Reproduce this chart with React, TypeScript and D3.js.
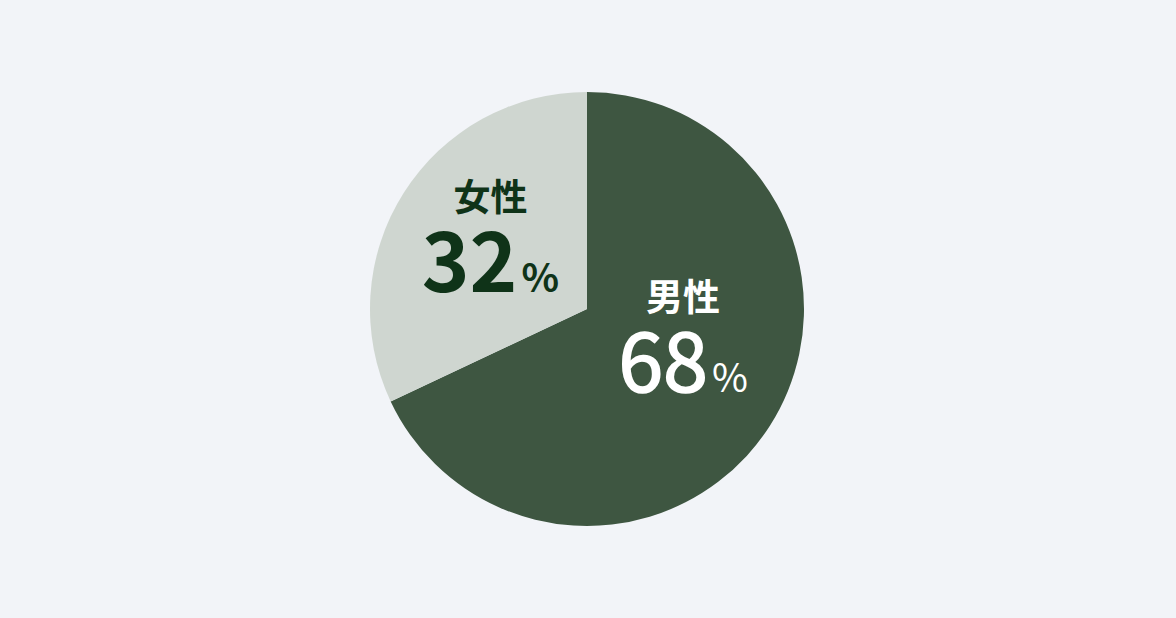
import * as d3 from "d3";

const WIDTH = 1176;
const HEIGHT = 618;

// Slices, in drawing order (clockwise from 12 o'clock)
const labels = ["男性", "女性"];
const values = [68, 32];
const fills = ["#3e5641", "#cfd6d0"];
const textColors = ["#ffffff", "#0f3318"];
const numberWeights = [400, 700];
const numberStroke = [1.6, 0]; // fakes a medium weight for the white figure
const percentWeights = [400, 700];
// Where each label block sits: angle (deg, clockwise from top) and distance from centre
const labelAngles = [115, 299.5];
const labelRadii = [106, 111];

const FONT = "'Noto Sans CJK JP', 'Noto Sans', sans-serif";

export default function App() {
  const cx = 587;
  const cy = 309;
  const radius = 217;

  const pie = d3
    .pie<number>()
    .sort(null)
    .value((d) => d);
  const arcs = pie(values);
  const arc = d3.arc<d3.PieArcDatum<number>>().innerRadius(0).outerRadius(radius);

  return (
    <svg
      width={WIDTH}
      height={HEIGHT}
      style={{ position: "absolute", left: 0, top: 0, background: "#f2f4f8" }}
    >
      <rect width={WIDTH} height={HEIGHT} fill="#f2f4f8" />
      <g transform={`translate(${cx},${cy})`}>
        {arcs.map((a, i) => (
          <path key={labels[i]} d={arc(a) ?? ""} fill={fills[i]} />
        ))}

        {arcs.map((a, i) => {
          const ang = (labelAngles[i] * Math.PI) / 180;
          const x = Math.sin(ang) * labelRadii[i];
          const y = -Math.cos(ang) * labelRadii[i];
          return (
            <text
              key={`lbl-${labels[i]}`}
              transform={`translate(${x},${y})`}
              textAnchor="middle"
              fill={textColors[i]}
              fontFamily={FONT}
            >
              <tspan x={0} y={-43} fontSize={37} fontWeight={700}>
                {labels[i]}
              </tspan>
              <tspan
                x={0}
                y={38}
                fontSize={81}
                fontWeight={numberWeights[i]}
                stroke={textColors[i]}
                strokeWidth={numberStroke[i]}
                strokeLinejoin="round"
              >
                {values[i]}
              </tspan>
              <tspan fontSize={39} fontWeight={percentWeights[i]} dx={4}>
                %
              </tspan>
            </text>
          );
        })}
      </g>
    </svg>
  );
}
